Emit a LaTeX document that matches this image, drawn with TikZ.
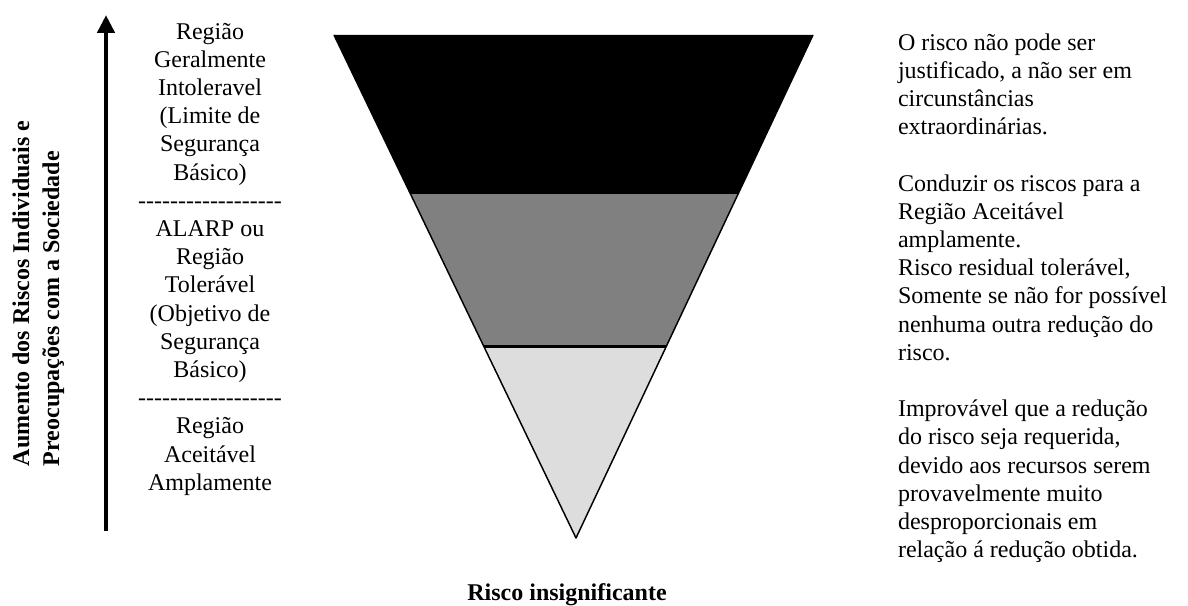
\documentclass[tikz,border=0pt]{standalone}
\usepackage{fontspec}
\setmainfont{Liberation Serif}
\usetikzlibrary{arrows.meta}
\definecolor{midgray}{RGB}{128,128,128}
\definecolor{palegray}{RGB}{221,221,221}
\newcommand\hdash{-\kern0pt}
\newcommand\dashrow{\hdash\hdash\hdash\hdash\hdash\hdash\hdash\hdash\hdash\hdash\hdash\hdash\hdash\hdash\hdash\hdash\hdash\hdash}
\begin{document}
\begin{tikzpicture}[x=0.75pt,y=-0.75pt,
  txt/.style={font=\fontsize{18}{21.15}\selectfont, inner sep=0pt, outer sep=0pt},
  btxt/.style={font=\bfseries\fontsize{18}{22.5}\selectfont, inner sep=0pt, outer sep=0pt},
  edge/.style={draw=black, line width=1.1pt, line join=round},
  axisarrow/.style={line width=3.6pt, -{Triangle[length=13.5pt,width=12.75pt]}}
]
\useasboundingbox (0,0) rectangle (1188,606);
% inverted triangle bands
\coordinate (tl) at (334,35);
\coordinate (tr) at (813,35);
\coordinate (apex) at (576,538);
\coordinate (b1l) at (410,193);
\coordinate (b1r) at (738.6,193);
\coordinate (b2l) at (483.9,346.5);
\coordinate (b2r) at (666.2,346.5);
\fill[black] (tl) -- (tr) -- (b1r) -- (b1l) -- cycle;
\fill[midgray] (b1l) -- (b1r) -- (b2r) -- (b2l) -- cycle;
\fill[palegray] (b2l) -- (b2r) -- (apex) -- cycle;
\draw[edge] (tl) -- (apex) -- (tr);
\draw[line width=0.6pt] (b1l) -- (b1r);
\draw[line width=1.6pt] (b2l) -- (b2r);
% vertical arrow
\coordinate (abot) at (106,531);
\coordinate (atop) at (106,15);
\draw[axisarrow] (abot) -- (atop);
% rotated axis label
\node[btxt, rotate=90, anchor=north west, align=left] (axislabel) at (8,466)
  {\strut Aumento dos Riscos Individuais e\\Preocupações com a Sociedade};
% region labels
\node[txt, align=center, anchor=north] (regions) at (210,19.3)
  {\strut Região\\Geralmente\\Intoleravel\\(Limite de\\Segurança\\Básico)\\\dashrow\\ALARP ou\\Região\\Tolerável\\(Objetivo de\\Segurança\\Básico)\\\dashrow\\Região\\Aceitável\\Amplamente};
% descriptions
\node[txt, align=left, anchor=north west] (desc) at (898,30.3)
  {\strut O risco não pode ser\\justificado, a não ser em\\circunstâncias\\extraordinárias.\\[21.15pt]
   Conduzir os riscos para a\\Região Aceitável\\amplamente.\\Risco residual tolerável,\\Somente se não for possível\\nenhuma outra redução do\\risco.\\[21.15pt]
   Improvável que a redução\\do risco seja requerida,\\devido aos recursos serem\\provavelmente muito\\desproporcionais em\\relação á redução obtida.};
% bottom label
\node[font=\bfseries\fontsize{18}{21.15}\selectfont, inner sep=0pt, anchor=base] (bottomlabel) at (567,600) {Risco insignificante};
\end{tikzpicture}
\end{document}
